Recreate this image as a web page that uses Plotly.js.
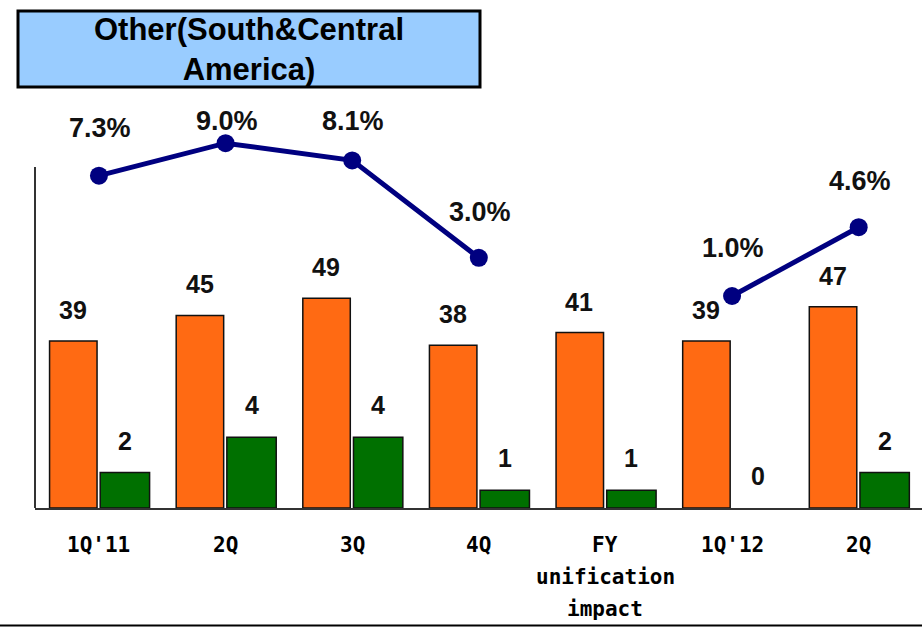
<!DOCTYPE html>
<html>
<head>
<meta charset="utf-8">
<script src="https://cdn.plot.ly/plotly-3.0.1.min.js"></script>
<style>
  html, body { margin: 0; padding: 0; background: #ffffff; }
  #chart { width: 922px; height: 627px; }
</style>
</head>
<body>
<div id="chart"></div>
<script>
// Quarterly figures, Other (South & Central America)
const tickLabels = ["1Q'11", "2Q", "3Q", "4Q", "FY<br>unification<br>impact", "1Q'12", "2Q"];
const salesValues = [39, 45, 49, 38, 41, 39, 47];
const incomeValues = [2, 4, 4, 1, 1, 0, 2];
const marginPct = [7.3, 9.0, 8.1, 3.0, null, 1.0, 4.6];
const chartTitle = "Other(South&Central<br>America)";

const xPos = tickLabels.map((_, i) => i);

const W = 922, H = 627;
const M = { l: 35, r: 0, t: 100, b: 119 };
const plotW = W - M.l - M.r, plotH = H - M.t - M.b;
// pixel -> paper helpers for decorations
const px = x => (x - M.l) / plotW;
const py = y => (H - M.b - y) / plotH;

const labelFont = { family: "Liberation Sans, Arial, sans-serif", size: 25, color: "#111", weight: "bold" };
const pctFont = { family: "Liberation Sans, Arial, sans-serif", size: 27, color: "#111", weight: "bold" };
const tickFont = { family: "DejaVu Sans Mono, monospace", size: 21, color: "#000", weight: "bold" };

const sales = {
  type: "bar", x: xPos, y: salesValues, yaxis: "y",
  offset: -0.39, width: 0.375,
  marker: { color: "#FF6A13", line: { color: "#111", width: 1.5 } },
  hoverinfo: "skip", showlegend: false
};
const income = {
  type: "bar", x: xPos, y: incomeValues, yaxis: "y2",
  offset: 0.01, width: 0.39,
  marker: { color: "#007000", line: { color: "#111", width: incomeValues.map(v => v ? 1.5 : 0) } },
  hoverinfo: "skip", showlegend: false
};
const margin = {
  type: "scatter", mode: "lines+markers", x: xPos, y: marginPct, yaxis: "y3",
  connectgaps: false, cliponaxis: false,
  line: { color: "#000080", width: 5 },
  marker: { color: "#000080", size: 18 },
  hoverinfo: "skip", showlegend: false
};

const annotations = [];
salesValues.forEach((v, i) => annotations.push({
  xref: "x", yref: "y", x: i, y: v, xshift: -26, yshift: 31,
  text: String(v), showarrow: false, font: labelFont, yanchor: "middle"
}));
incomeValues.forEach((v, i) => annotations.push({
  xref: "x", yref: "y2", x: i, y: v, xshift: 26, yshift: 32,
  text: String(v), showarrow: false, font: labelFont, yanchor: "middle"
}));
// vertical lift of each margin label above its marker
const pctLabelLift = [48, 22, 39, 46, 0, 48, 46];
marginPct.forEach((v, i) => {
  if (v === null) return;
  annotations.push({
    xref: "x", yref: "y3", x: i, y: v, xshift: 1, yshift: pctLabelLift[i],
    text: v.toFixed(1) + "%", showarrow: false, font: pctFont, yanchor: "middle"
  });
});
// category labels, one annotation per text line for even line spacing
tickLabels.forEach((lbl, i) => {
  lbl.split("<br>").forEach((line, k) => annotations.push({
    xref: "x", yref: "y", x: i, y: 0, yshift: -37 - 32 * k, xshift: 0,
    text: line, showarrow: false, font: tickFont, yanchor: "middle"
  }));
});
annotations.push({
  xref: "paper", yref: "paper", x: px(249), y: py(49),
  text: chartTitle, showarrow: false, xanchor: "center", yanchor: "middle",
  font: { family: "Liberation Sans, Arial, sans-serif", size: 31, color: "#000", weight: "bold" }
});

const layout = {
  width: W, height: H,
  margin: M,
  paper_bgcolor: "#ffffff", plot_bgcolor: "rgba(0,0,0,0)",
  showlegend: false,
  xaxis: {
    range: [-0.505, 6.5], showticklabels: false,
    showgrid: false, zeroline: false, ticks: "",
    showline: true, linecolor: "#333", linewidth: 2
  },
  yaxis: { range: [0, plotH / 4.28], visible: false, fixedrange: true },
  yaxis2: { range: [0, plotH / 17.7], overlaying: "y", visible: false },
  yaxis3: { range: [-10.1, plotH / 19.1 - 10.1], overlaying: "y", visible: false },
  annotations: annotations,
  shapes: [
    { type: "rect", xref: "paper", yref: "paper", x0: px(18), x1: px(480), y0: py(87), y1: py(11),
      fillcolor: "#99CCFF", line: { color: "#000", width: 3 }, layer: "below" },
    { type: "line", xref: "paper", yref: "paper", x0: 0, x1: 0, y0: 0, y1: py(167),
      line: { color: "#333", width: 2 } },
    { type: "line", xref: "paper", yref: "paper", x0: px(0), x1: px(W), y0: py(625.5), y1: py(625.5),
      line: { color: "#000", width: 2 } }
  ]
};

Plotly.newPlot("chart", [sales, income, margin], layout, { staticPlot: true, displayModeBar: false });
</script>
</body>
</html>
